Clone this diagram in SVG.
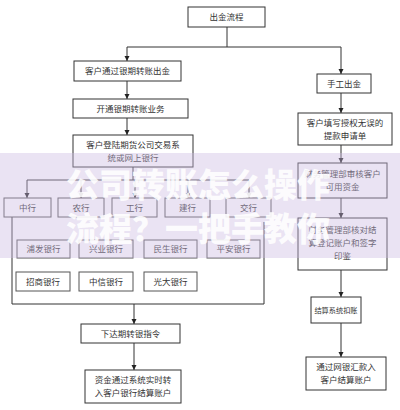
<svg xmlns="http://www.w3.org/2000/svg" width="400" height="410" viewBox="0 0 400 410">
<defs>
<marker id="ah" viewBox="0 0 10 10" refX="10" refY="5" markerWidth="5" markerHeight="6" orient="auto" markerUnits="userSpaceOnUse">
<path d="M0,0 L10,5 L0,10 z" fill="#222"/>
</marker>
</defs>
<style>
.b{fill:#fff;stroke:#333;stroke-width:1}
.k{fill:#fff;stroke:#555;stroke-width:1}
.t{font-family:"Noto Sans CJK SC","Noto Sans",sans-serif;font-size:8.5px;fill:#333;text-anchor:middle}
.c{fill:none;stroke:#333;stroke-width:1}
.a{marker-end:url(#ah)}
.w{font-family:"Noto Sans CJK SC","Noto Sans",sans-serif;font-size:33px;font-weight:900;fill:#fff;opacity:0.88}
</style>
<rect width="400" height="410" fill="#fff"/>
<g id="connectors">
<path class="c" d="M227,27 V47 M127,47 H341"/>
<path class="c a" d="M127,47 V61"/>
<path class="c a" d="M341,47 V74"/>
<path class="c a" d="M127,81 V99"/>
<path class="c a" d="M127,118 V135"/>
<path class="c" d="M133,167 V180 M27,180 H249"/>
<path class="c a" d="M27,180 V198"/>
<path class="c a" d="M81,180 V198"/>
<path class="c a" d="M135,180 V198"/>
<path class="c a" d="M188,180 V198"/>
<path class="c a" d="M249,180 V198"/>
<path class="c" d="M12,217 V304 H264 V222"/>
<path class="c a" d="M134,304 V324"/>
<path class="c a" d="M134,343 V370"/>
<path class="c a" d="M341,93 V113"/>
<path class="c a" d="M341,145 V163"/>
<path class="c a" d="M341,198 V218"/>
<path class="c a" d="M341,270 V297"/>
<path class="c a" d="M341,323 V357"/>
</g>
<g id="n-start"><rect class="b" x="188" y="7" width="77" height="20"/><text class="t" x="226.5" y="20">出金流程</text></g>
<g id="n-bank-transfer"><rect class="b" x="74" y="61" width="107" height="20"/><text class="t" x="127.5" y="74">客户通过银期转账出金</text></g>
<g id="n-open"><rect class="b" x="73" y="99" width="115" height="19"/><text class="t" x="130.5" y="111.5">开通银期转账业务</text></g>
<g id="n-login"><rect class="b" x="73" y="135" width="120" height="32"/><text class="t" x="133" y="148">客户登陆期货公司交易系</text><text class="t" x="133" y="161">统或网上银行</text></g>
<g id="n-zh"><rect class="k" x="4" y="198" width="47" height="19"/><text class="t" x="27.5" y="210.5">中行</text></g>
<g id="n-nh"><rect class="k" x="58" y="198" width="46" height="19"/><text class="t" x="81" y="210.5">农行</text></g>
<g id="n-gh"><rect class="k" x="112" y="198" width="45" height="19"/><text class="t" x="134.5" y="210.5">工行</text></g>
<g id="n-jh"><rect class="k" x="165" y="198" width="45" height="19"/><text class="t" x="187.5" y="210.5">建行</text></g>
<g id="n-jt"><rect class="k" x="226" y="198" width="45" height="19"/><text class="t" x="248.5" y="210.5">交行</text></g>
<g id="n-pf"><rect class="k" x="17" y="240" width="53" height="18"/><text class="t" x="43.5" y="252">浦发银行</text></g>
<g id="n-xy"><rect class="k" x="79" y="240" width="54" height="18"/><text class="t" x="106" y="252">兴业银行</text></g>
<g id="n-ms"><rect class="k" x="144" y="240" width="53" height="18"/><text class="t" x="170.5" y="252">民生银行</text></g>
<g id="n-pa"><rect class="k" x="207" y="240" width="53" height="18"/><text class="t" x="233.5" y="252">平安银行</text></g>
<g id="n-zs"><rect class="k" x="16" y="272" width="54" height="19"/><text class="t" x="43" y="284.5">招商银行</text></g>
<g id="n-zx"><rect class="k" x="79" y="272" width="54" height="19"/><text class="t" x="106" y="284.5">中信银行</text></g>
<g id="n-gd"><rect class="k" x="144" y="272" width="53" height="19"/><text class="t" x="170.5" y="284.5">光大银行</text></g>
<g id="n-order"><rect class="b" x="81" y="324" width="99" height="19"/><text class="t" x="130.5" y="336.5">下达期转银指令</text></g>
<g id="n-realtime"><rect class="b" x="85" y="370" width="96" height="33"/><text class="t" x="133" y="383">资金通过系统实时转</text><text class="t" x="133" y="396">入客户银行结算账户</text></g>
<g id="n-manual"><rect class="b" x="317" y="74" width="54" height="19"/><text class="t" x="344" y="86.5">手工出金</text></g>
<g id="n-form"><rect class="b" x="298" y="113" width="94" height="32"/><text class="t" x="345" y="126">客户填写授权无误的</text><text class="t" x="345" y="139">提款申请单</text></g>
<g id="n-review"><rect class="b" x="298" y="163" width="89" height="35"/><text class="t" x="342.5" y="177">财务管理部审核客户</text><text class="t" x="342.5" y="190">可用资金</text></g>
<g id="n-check"><rect class="b" x="298" y="218" width="89" height="52"/><text class="t" x="342.5" y="233">财务管理部核对结</text><text class="t" x="342.5" y="246">算登记账户和签字</text><text class="t" x="342.5" y="259">印鉴</text></g>
<g id="n-deduct"><rect class="b" x="311" y="297" width="50" height="26"/><text class="t" x="336" y="312.5" style="font-size:7.2px">结算系统扣账</text></g>
<g id="n-remit"><rect class="b" x="306" y="357" width="80" height="33"/><text class="t" x="346" y="370">通过网银汇款入</text><text class="t" x="346" y="383">客户结算账户</text></g>
<g id="watermark">
<rect x="0" y="153" width="400" height="105" fill="#cbb8e0" opacity="0.4"/>
<text class="w" x="66" y="197">公司转账怎么操作</text>
<text class="w" x="66" y="241">流程？一把手教你</text>
</g>
</svg>
